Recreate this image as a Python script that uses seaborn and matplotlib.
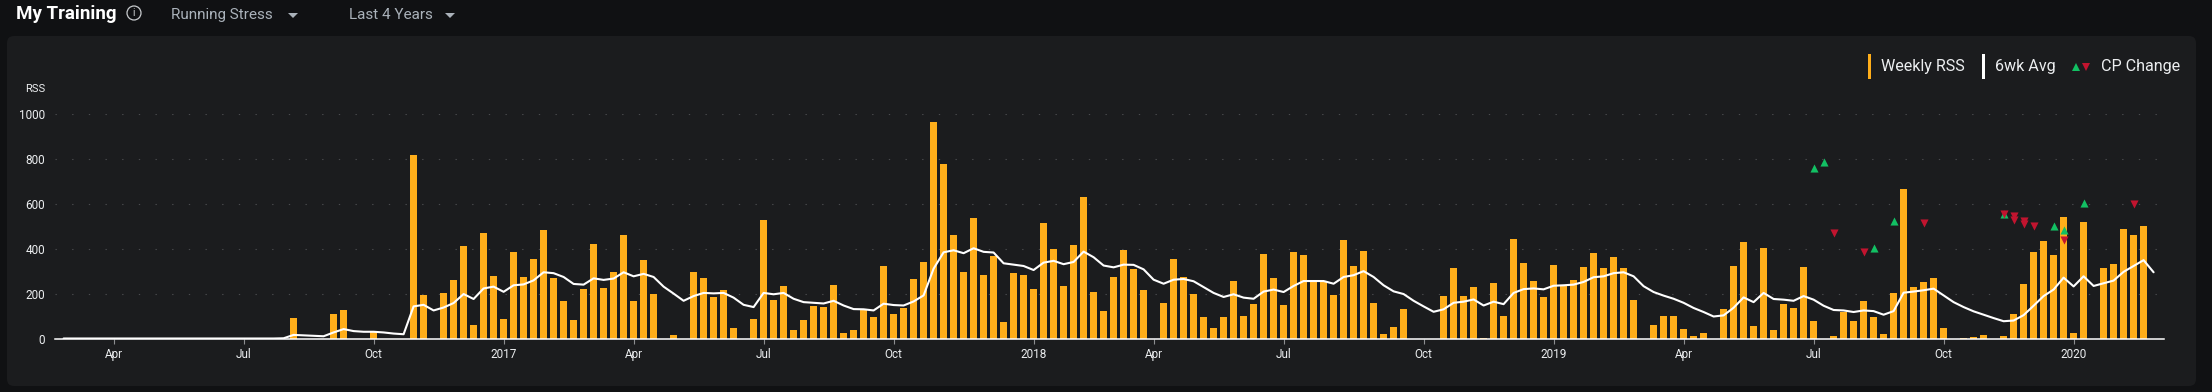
import matplotlib
matplotlib.use("Agg")
import matplotlib.pyplot as plt
from matplotlib.lines import Line2D
from matplotlib.patches import Circle, FancyBboxPatch, Polygon, Rectangle
import pandas as pd
import seaborn as sns

# DATEN

first_week = -5
weekly_rss = [
    0, 0, 0, 0, 0, 0, 0, 0, 0, 0,
    0, 0, 0, 0, 0, 0, 0, 0, 0, 0, 0, 0, 0, 92, 0, 0, 0, 107, 128, 0, 0, 33, 0, 0, 0,
    817, 193, 0, 204, 260, 411, 62, 472, 280, 88, 387, 274, 356, 482, 268, 165, 83, 222, 423, 223,
    297, 462, 167, 349, 200, 0, 16, 0, 298, 268, 183, 218, 48, 0, 86, 530, 170, 234, 36, 83,
    145, 139, 238, 25, 39, 130, 94, 322, 109, 137, 264, 340, 964, 779, 463, 298, 535, 282, 367, 75,
    291, 285, 219, 516, 399, 235, 416, 629, 209, 124, 274, 396, 308, 218, 0, 156, 355, 276, 197, 95,
    46, 97, 256, 101, 152, 377, 270, 149, 384, 370, 256, 256, 192, 437, 325, 390, 156, 18, 52, 133,
    0, 0, 0, 191, 314, 189, 231, 3, 246, 98, 443, 338, 255, 185, 329, 234, 262, 317, 383, 313,
    361, 313, 171, 0, 61, 98, 101, 43, 9, 24, 0, 131, 322, 428, 57, 405, 40, 152, 134, 317,
    76, 0, 13, 118, 80, 167, 97, 18, 204, 665, 228, 252, 270, 46, 0, 4, 7, 16, 0, 9,
    107, 241, 387, 435, 370, 542, 25, 521, 0, 313, 334, 486, 462, 499, 0,
]
avg_6wk = [
    0, 0, 0, 0, 0, 0, 0, 0, 0, 0,
    0, 0, 0, 0, 0, 0, 0, 0, 0, 0, 0, 0, 1, 16, 14, 12, 10, 27, 42, 33, 30, 30, 27, 22, 19,
    143, 150, 125, 138, 158, 198, 176, 223, 231, 208, 237, 241, 259, 295, 291, 274, 243, 240, 268, 261,
    267, 295, 277, 288, 274, 231, 200, 168, 189, 203, 201, 203, 182, 150, 140, 203, 197, 203, 177, 162,
    159, 156, 168, 147, 131, 130, 125, 155, 149, 147, 165, 192, 311, 384, 393, 380, 402, 386, 383, 335,
    329, 323, 305, 338, 346, 331, 341, 387, 362, 325, 317, 329, 328, 308, 262, 244, 262, 265, 255, 229,
    203, 185, 197, 182, 177, 209, 218, 207, 234, 256, 256, 256, 244, 274, 282, 300, 274, 237, 210, 198,
    168, 143, 119, 130, 159, 164, 174, 147, 164, 153, 203, 220, 223, 219, 235, 237, 240, 252, 273, 277,
    291, 295, 277, 233, 207, 191, 177, 159, 136, 118, 98, 103, 137, 183, 162, 203, 176, 173, 168, 189,
    173, 146, 127, 125, 118, 125, 122, 106, 122, 204, 209, 215, 222, 192, 162, 140, 121, 106, 91, 77,
    80, 104, 146, 189, 218, 271, 232, 277, 234, 246, 258, 297, 323, 349, 295,
]
cp_up_weeks = [170, 171, 176, 178, 189, 194, 195, 197]
cp_up_values = [758, 787, 402, 523, 553, 502, 483, 603]
cp_down_weeks = [172, 175, 181, 189, 190, 190, 191, 191, 192, 195, 202]
cp_down_values = [471, 386, 516, 553, 547, 530, 524, 511, 500, 440, 600]
tick_weeks = [0, 13, 26, 39, 52, 65, 78, 92, 104, 117, 131, 144, 157, 170, 183, 196]
tick_labels = ["Apr", "Jul", "Oct", "2017", "Apr", "Jul", "Oct", "2018",
               "Apr", "Jul", "Oct", "2019", "Apr", "Jul", "Oct", "2020"]
y_ticks = [0, 200, 400, 600, 800, 1000]

# FARBEN

BG_OUTER = "#101113"
BG_PANEL = "#1b1c1e"
ORANGE = "#ffae1a"
GREEN = "#12c063"
RED = "#c2142f"
TEXT = "#eceef0"
MUTED = "#aab2ba"
W, H = 2212, 392

sns.set_theme(style="dark", rc={"axes.facecolor": "none", "figure.facecolor": BG_OUTER})
plt.rcParams["font.family"] = ["Roboto", "DejaVu Sans"]


def fx(x):
    return x / W


def fy(y):
    return 1 - y / H


fig = plt.figure(figsize=(W / 100, H / 100), dpi=100)

# Hintergrund-Panel (hinter den Achsen)
fig.add_artist(FancyBboxPatch((7, H - 386), 2189, 350, boxstyle="round,pad=0,rounding_size=7",
                              transform=None, facecolor=BG_PANEL, edgecolor="none", zorder=-1))

ax = fig.add_axes([fx(55), fy(338.5), (2164 - 55) / W, 224.5 / H])

weeks = list(range(first_week, first_week + len(weekly_rss)))
df = pd.DataFrame({"week": weeks, "rss": weekly_rss, "avg": avg_6wk})
up = pd.DataFrame({"week": cp_up_weeks, "cp": cp_up_values})
down = pd.DataFrame({"week": cp_down_weeks, "cp": cp_down_values})

sns.barplot(data=df, x="week", y="rss", native_scale=True, color=ORANGE, saturation=1,
            width=0.74, linewidth=0, ax=ax, zorder=2)
sns.lineplot(data=df, x="week", y="avg", color="white", linewidth=1.5, ax=ax, zorder=3)
sns.scatterplot(data=up, x="week", y="cp", marker="^", color=GREEN, s=34, linewidth=0, ax=ax,
                zorder=4, clip_on=False)
sns.scatterplot(data=down, x="week", y="cp", marker="v", color=RED, s=34, linewidth=0, ax=ax,
                zorder=5, clip_on=False)

ax.set_xlim((55 - 113.6) / 10, (2164 - 113.6) / 10)
ax.set_ylim(0, 1000)
ax.set_xlabel("")
ax.set_ylabel("")
ax.set_xticks(tick_weeks, tick_labels)
ax.set_yticks(y_ticks)
ax.tick_params(axis="x", length=3.6, width=0.8, color="#8c8e91", labelcolor=TEXT, labelsize=8.5, pad=3, bottom=True)
ax.tick_params(axis="y", length=0, labelcolor=TEXT, labelsize=8.5, pad=7)
for side in ["top", "right", "left"]:
    ax.spines[side].set_visible(False)
ax.spines["bottom"].set_color("white")
ax.spines["bottom"].set_linewidth(1.1)
ax.spines["bottom"].set_zorder(6)

# gepunktete Rasterlinien
for v in y_ticks[1:]:
    ax.axhline(v, color="#4a4b4e", linewidth=0.8, linestyle=(0, (1.2, 13.8)), zorder=1)

fig.text(fx(45), fy(89), "RSS", color=TEXT, fontsize=8, ha="right", va="center")

# Kopfzeile
fig.text(fx(16), fy(14), "My Training", color="white", fontsize=13.5, fontweight="bold", va="center")
fig.add_artist(Circle((134, H - 13), 7, transform=None, facecolor="none", edgecolor="#c8cbce", linewidth=0.9))
fig.text(fx(134), fy(13), "i", color="#c8cbce", fontsize=7.5, ha="center", va="center")
fig.text(fx(171), fy(15), "Running Stress", color=MUTED, fontsize=11, va="center")
fig.text(fx(349), fy(15), "Last 4 Years", color=MUTED, fontsize=11, va="center")
for cx in [293, 450]:
    fig.add_artist(Polygon([(cx - 5, H - 13), (cx + 5, H - 13), (cx, H - 18)], closed=True,
                           transform=None, facecolor=MUTED, edgecolor="none"))

# Legende
fig.add_artist(Rectangle((1867.5, H - 79), 3, 25, transform=None, facecolor=ORANGE, edgecolor="none"))
fig.add_artist(Rectangle((1982, H - 79), 3, 25, transform=None, facecolor="white", edgecolor="none"))
fig.text(fx(1881), fy(67), "Weekly RSS", color=TEXT, fontsize=11.6, va="center")
fig.text(fx(1995), fy(67), "6wk Avg", color=TEXT, fontsize=11.6, va="center")
fig.add_artist(Line2D([fx(2076)], [fy(67)], marker="^", color=GREEN, markersize=6, markeredgewidth=0, linestyle="none"))
fig.add_artist(Line2D([fx(2086)], [fy(67)], marker="v", color=RED, markersize=6, markeredgewidth=0, linestyle="none"))
fig.text(fx(2101), fy(67), "CP Change", color=TEXT, fontsize=11.6, va="center")

fig.savefig("out.png", dpi=100, facecolor=BG_OUTER)
